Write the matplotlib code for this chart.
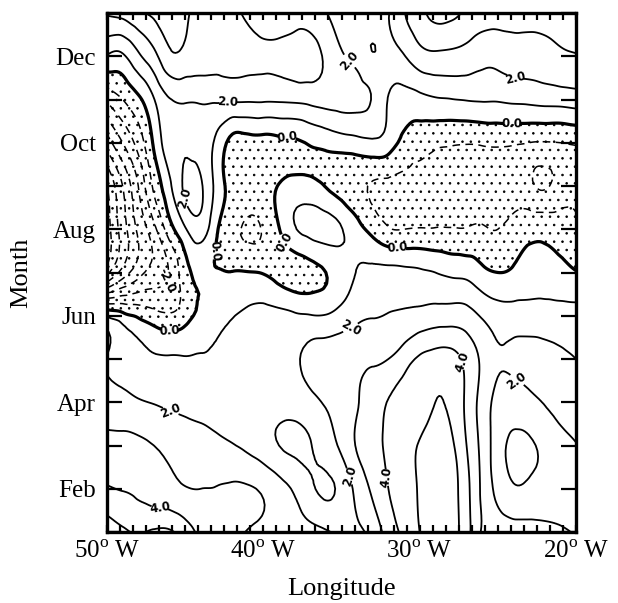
import numpy as np
import matplotlib
matplotlib.use("Agg")
import matplotlib.pyplot as plt
from matplotlib.tri import Triangulation, UniformTriRefiner

plt.rcParams['font.family'] = ['Liberation Serif', 'DejaVu Serif']
plt.rcParams['mathtext.fontset'] = 'custom'
plt.rcParams['mathtext.rm'] = 'Liberation Serif'
plt.rcParams['hatch.color'] = 'black'
plt.rcParams['hatch.linewidth'] = 0.6

# longitude (degrees West) and month index (1 = Jan ... 13 = Jan of next year)
lons = [50, 49, 48, 47, 46, 45, 44, 43, 42, 41, 40, 39, 38, 37, 36, 35,
        34, 33, 32, 31, 30, 29, 28, 27, 26, 25, 24, 23, 22, 21, 20]
months = [1, 2, 3, 4, 5, 6, 7, 8, 9, 10, 11, 12, 13]

m01 = [5.8, 5.2, 4.9, 5.15, 5.15, 4.5, 3.8, 3.6, 3.3, 2.95, 2.75, 2.55, 2.4, 2.25, 2.1, 1.8,
       1.8, 2.35, 3.45, 4.25, 5.0, 5.5, 5.4, 4.4, 2.9, 2.6, 2.45, 2.35, 2.25, 2.1, 1.95]
m02 = [4.1, 3.95, 3.8, 3.5, 3.3, 3.05, 3.0, 3.05, 3.15, 3.1, 2.85, 2.4, 1.85, 1.2, 0.85, 1.3,
       2.3, 3.2, 4.0, 4.6, 5.1, 5.6, 5.4, 4.3, 2.8, 1.7, 1.1, 1.2, 1.4, 1.55, 1.65]
m03 = [3.2, 3.25, 3.2, 3.0, 2.8, 2.55, 2.35, 2.2, 2.05, 1.8, 1.45, 1.0, 0.8, 0.95, 1.5, 2.2,
       3.1, 3.7, 4.2, 4.7, 5.05, 5.4, 5.2, 4.0, 2.7, 1.45, 0.8, 0.85, 1.25, 1.65, 1.95]
m04 = [2.55, 2.35, 2.1, 1.95, 1.8, 1.7, 1.65, 1.6, 1.55, 1.5, 1.4, 1.35, 1.4, 1.7, 2.1, 2.5,
       2.95, 3.45, 4.05, 4.4, 4.7, 5.0, 4.8, 3.8, 2.6, 1.7, 1.5, 1.75, 2.05, 2.3, 2.45]
m05 = [1.95, 1.6, 1.3, 1.1, 1.08, 1.06, 1.06, 1.08, 1.15, 1.3, 1.45, 1.6, 1.85, 2.3, 2.55, 2.65,
       2.75, 2.85, 3.0, 3.55, 4.15, 4.4, 4.35, 3.7, 2.8, 2.1, 2.2, 2.3, 2.25, 2.15, 2.0]
m06 = [0.9, 0.35, -0.15, -0.6, -0.85, -0.4, 0.3, 0.7, 0.95, 1.2, 1.35, 1.3, 1.15, 1.05, 1.05, 1.4,
       1.8, 1.95, 2.05, 2.15, 2.3, 2.45, 2.5, 2.4, 1.9, 1.5, 1.45, 1.45, 1.45, 1.4, 1.4]
m07 = [-6.3, -4.6, -3.4, -2.6, -1.9, -0.4, 0.15, 0.05, 0.03, 0.03, -0.05, -0.35, -0.5, -0.35, 0.0, 0.5,
       1.05, 1.25, 1.3, 1.25, 1.15, 1.0, 0.8, 0.7, 0.25, 0.0, 0.15, 0.4, 0.4, 0.3, 0.05]
m08 = [-7.5, -5.5, -3.8, -2.3, -0.45, 0.9, 1.5, 0.15, -0.7, -1.15, -0.9, -0.05, 0.9, 1.3, 1.35, 1.05,
       0.35, -0.3, -0.9, -1.0, -0.95, -0.95, -0.95, -0.95, -0.9, -1.0, -0.6, -0.3, -0.3, -0.45, -0.8]
m09 = [-7.0, -5.0, -3.0, -0.8, 0.8, 2.2, 2.15, 0.7, -0.3, -0.6, -0.5, 0.05, 0.35, 0.3, -0.05, -0.5,
       -0.8, -1.1, -1.25, -1.3, -1.3, -1.4, -1.4, -1.4, -1.4, -1.5, -1.6, -1.8, -2.1, -1.6, -1.4]
m10 = [-4.5, -3.0, -1.6, 0.15, 1.6, 1.9, 1.5, 0.8, -0.35, -0.4, -0.35, -0.25, -0.15, 0.1, 0.3, 0.5,
       0.65, 0.8, 0.5, -0.3, -0.6, -0.8, -0.9, -0.95, -0.9, -0.85, -0.9, -1.0, -1.05, -1.0, -0.9]
m11 = [-1.8, -1.0, -0.2, 0.95, 1.95, 2.1, 2.15, 2.15, 2.15, 2.15, 2.15, 2.15, 2.2, 2.3, 2.4, 2.4,
       2.3, 1.9, 0.95, 0.6, 0.7, 0.9, 0.97, 1.05, 1.1, 1.1, 1.2, 1.25, 1.35, 1.4, 1.5]
m12 = [0.93, 0.85, 1.8, 2.7, 3.8, 3.75, 3.5, 3.35, 3.25, 3.15, 3.1, 3.15, 3.3, 3.35, 2.8, 2.1,
       1.7, 1.05, 1.5, 1.95, 2.6, 2.8, 2.75, 2.6, 2.3, 2.3, 2.5, 2.55, 2.65, 2.85, 2.95]
m13 = [3.1, 3.3, 3.85, 4.2, 4.35, 4.15, 3.7, 3.4, 3.15, 2.9, 2.7, 2.65, 2.7, 2.6, 2.05, 1.7,
       1.45, 1.4, 1.95, 2.95, 3.7, 4.3, 4.25, 3.85, 3.6, 3.5, 3.4, 3.35, 3.35, 3.4, 3.5]

field = np.array([m01, m02, m03, m04, m05, m06, m07, m08, m09, m10, m11, m12, m13])

month_ticks = [2, 4, 6, 8, 10, 12]
month_labels = ['Feb', 'Apr', 'Jun', 'Aug', 'Oct', 'Dec']
lon_ticks = [50, 40, 30, 20]

fig = plt.figure(figsize=(6.18, 6.03), dpi=100)
ax = fig.add_axes([107/618, 1-532/603, (576-107)/618, (532-13)/603])

LON, MON = np.meshgrid(np.array(lons, float), np.array(months, float))
tri = Triangulation(LON.ravel(), MON.ravel())
refiner = UniformTriRefiner(tri)
tri_f, z_f = refiner.refine_field(field.ravel(), subdiv=3)

neg_other = [-9, -8, -7, -6, -5, -4, -3, -1]
pos_other = [1, 3, 5, 6, 7]
dash = [(0, (5, 3.5))]

ax.tricontourf(tri_f, z_f, levels=[-20, 0], colors='none', hatches=['..'])
ax.tricontour(tri_f, z_f, levels=neg_other, colors='k', linewidths=1.1, linestyles=dash)
cm2 = ax.tricontour(tri_f, z_f, levels=[-2.0], colors='k', linewidths=1.1, linestyles=dash)
cz = ax.tricontour(tri_f, z_f, levels=[0.0], colors='k', linewidths=2.3)
ax.tricontour(tri_f, z_f, levels=pos_other, colors='k', linewidths=1.3)
c2 = ax.tricontour(tri_f, z_f, levels=[2.0], colors='k', linewidths=1.3)
c4 = ax.tricontour(tri_f, z_f, levels=[4.0], colors='k', linewidths=1.3)

lab_kw = dict(fmt='%.1f', fontsize=8.5, inline=True, inline_spacing=1)
labels = []
labels += ax.clabel(cz, manual=[(46.0, 5.74), (38.5, 9.85), (24.1, 10.34),
                                (43.2, 7.5), (38.4, 7.75), (31.4, 7.6)], **lab_kw)
labels += ax.clabel(c2, manual=[(42.3, 11.03), (34.6, 11.85), (23.9, 11.5),
                                (45.2, 8.7), (46.2, 3.55), (34.6, 5.83),
                                (23.8, 4.5), (34.8, 2.25)], **lab_kw)
labels += ax.clabel(c4, manual=[(46.5, 2.1), (27.7, 4.9), (32.3, 2.25)], **lab_kw)
labels += ax.clabel(cm2, manual=[(46.2, 6.83)], **lab_kw)
for t in labels:
    t.set_fontweight('bold')
    t.set_family(['DejaVu Sans'])

ax.set_xlim(50, 20)
ax.set_ylim(1, 13)
ax.set_xticks(lon_ticks)
ax.set_xticklabels([f'{v}$^{{\\rm o}}$ W' for v in lon_ticks], fontsize=18)
ax.set_xticks(np.arange(20, 50.01, 10/12), minor=True)
ax.set_yticks(month_ticks)
ax.set_yticklabels(month_labels, fontsize=18)
ax.set_yticks(np.arange(1, 13.01, 1), minor=True)
ax.tick_params(axis='both', which='both', direction='in', top=True, right=True,
               width=1.6)
ax.tick_params(axis='x', which='both', length=5, pad=6)
ax.tick_params(axis='y', which='both', length=11, pad=8)
for s in ax.spines.values():
    s.set_linewidth(2.4)
ax.set_xlabel('Longitude', fontsize=19, labelpad=11)
ax.set_ylabel('Month', fontsize=19, labelpad=15)

fig.savefig('out.png', dpi=100)
